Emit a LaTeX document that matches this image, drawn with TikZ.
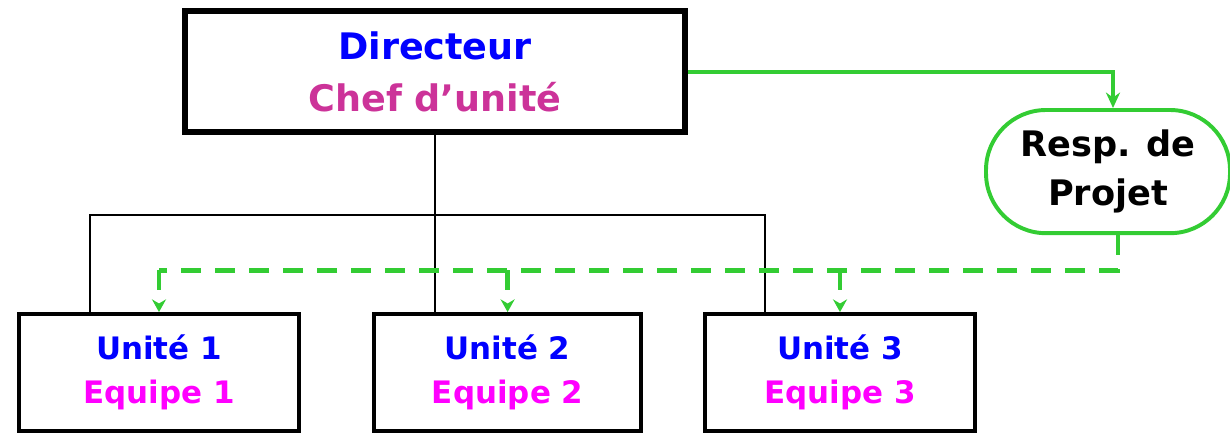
\documentclass[tikz,border=0pt]{standalone}
\usepackage{fontspec}
\setmainfont{DejaVu Sans}
\usepackage{tikz}
\usetikzlibrary{arrows.meta}
\definecolor{lgreen}{RGB}{51,204,51}
\definecolor{chefpink}{RGB}{204,51,153}
\definecolor{equipe}{RGB}{255,0,255}

\begin{document}
\begin{tikzpicture}[
unitbox/.style={draw,line width=2.8pt,minimum height=2.925cm,align=center,
  font=\bfseries\fontsize{22}{31}\selectfont},
orgline/.style={line width=1.4pt},
projline/.style={lgreen,line width=3.5pt,dash pattern=on .5cm off .35cm},
projtip/.style={-{Stealth[length=9pt,width=10pt]}}
]
\useasboundingbox (0,0) rectangle (30.75,-10.825);
\node[draw,line width=4.2pt,minimum width=12.5cm,minimum height=3.02cm,align=center,
  font=\bfseries\fontsize{26}{37}\selectfont] (dir) at (10.875,-1.79)
  {\textcolor{blue}{Directeur}\\\textcolor{chefpink}{Chef d’unité}};
\node[draw=lgreen,line width=2.8pt,rounded corners=1.5cm,minimum width=6.1cm,
  minimum height=3.08cm,align=center,font=\bfseries\fontsize{25}{35}\selectfont]
  (resp) at (27.7,-4.29) {Resp. de\\Projet};
\node[unitbox,minimum width=7cm] (unit1) at (3.975,-9.3125)
  {\textcolor{blue}{Unité 1}\\\textcolor{equipe}{Equipe 1}};
\node[unitbox,minimum width=6.675cm] (unit2) at (12.69,-9.3125)
  {\textcolor{blue}{Unité 2}\\\textcolor{equipe}{Equipe 2}};
\node[unitbox,minimum width=6.75cm] (unit3) at (21,-9.3125)
  {\textcolor{blue}{Unité 3}\\\textcolor{equipe}{Equipe 3}};
\coordinate (barL) at (2.25,-5.375);
\coordinate (barR) at (19.125,-5.375);
\draw[orgline] (dir.south) -- (dir.south |- unit2.north);
\draw[orgline] (barL |- unit1.north) -- (barL) -- (barR) -- (barR |- unit3.north);
\draw[lgreen,line width=2.8pt,-{Stealth[length=11pt,width=10pt]}]
  (dir.east) -| ([xshift=.125cm]resp.north);
\coordinate (dashR) at (27.95,-6.76);
\draw[projline] (dashR |- resp.south) -- (dashR) -- (dashR -| unit1.north);
\foreach \u in {unit1,unit2,unit3}
  \draw[projline,projtip] (dashR -| \u.north) -- (\u.north);
\end{tikzpicture}
\end{document}
